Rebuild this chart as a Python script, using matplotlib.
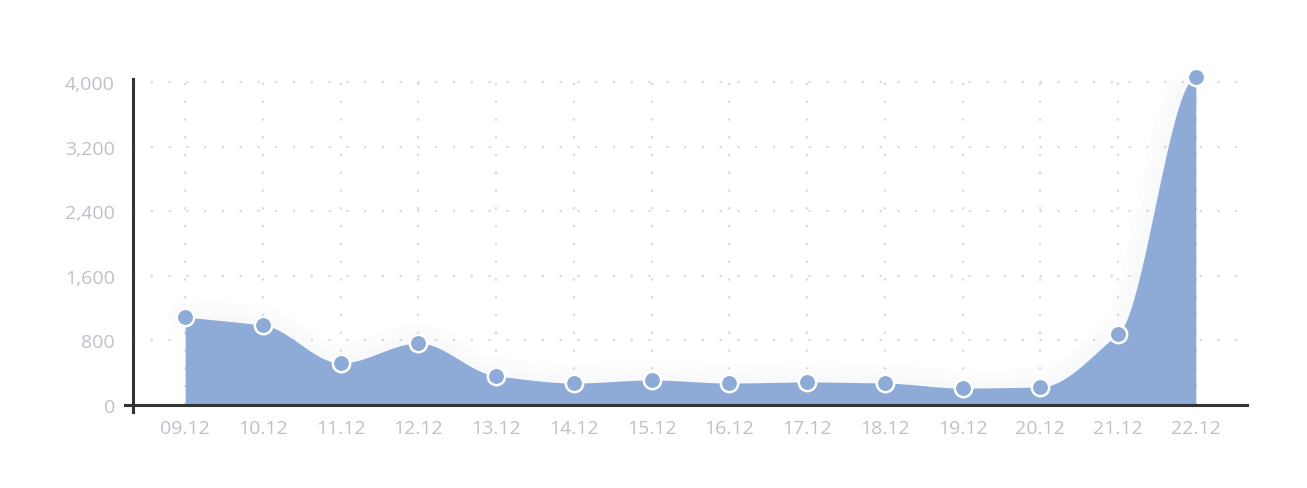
import matplotlib
matplotlib.use("Agg")
import matplotlib.pyplot as plt
from matplotlib.lines import Line2D
import numpy as np

dates = ["09.12", "10.12", "11.12", "12.12", "13.12", "14.12", "15.12",
         "16.12", "17.12", "18.12", "19.12", "20.12", "21.12", "22.12"]
values = [1090, 990, 520, 768, 360, 272, 310, 272, 285, 272, 210, 223, 880, 4060]
yticks = [0, 800, 1600, 2400, 3200, 4000]

FILL = "#8eaad6"
LABEL = "#c0c0cb"
GRID = "#d9d9df"
AXIS = "#333333"


def monotone_curve(x, y, n=40):
    # monotone cubic (Fritsch-Carlson), flat at the last point
    x = np.asarray(x, float)
    y = np.asarray(y, float)
    h = np.diff(x)
    d = np.diff(y) / h
    m = np.zeros_like(y)
    m[0], m[-1] = d[0], 0
    for i in range(1, len(y) - 1):
        if d[i - 1] * d[i] <= 0:
            m[i] = 0
        else:
            w1 = 2 * h[i] + h[i - 1]
            w2 = h[i] + 2 * h[i - 1]
            m[i] = 0.7 * (w1 + w2) / (w1 / d[i - 1] + w2 / d[i])
    xs, ys = [], []
    for i in range(len(x) - 1):
        t = np.linspace(0, 1, n, endpoint=False)
        h00 = 2 * t**3 - 3 * t**2 + 1
        h10 = t**3 - 2 * t**2 + t
        h01 = -2 * t**3 + 3 * t**2
        h11 = t**3 - t**2
        xs.append(x[i] + t * h[i])
        ys.append(h00 * y[i] + h10 * h[i] * m[i] + h01 * y[i + 1] + h11 * h[i] * m[i + 1])
    xs.append([x[-1]])
    ys.append([y[-1]])
    return np.concatenate(xs), np.concatenate(ys)


x = np.arange(len(dates))
xs, ys = monotone_curve(x, values)

fig = plt.figure(figsize=(13.07, 4.89), dpi=100)
ax = fig.add_axes([0.1018, 0.1697, 0.8524, 0.6667])

# very soft glow around the area
for lw, a in [(28, 0.012), (18, 0.018), (10, 0.025)]:
    ax.plot(xs, ys, color="#9aa6c4", linewidth=lw, alpha=a,
            solid_capstyle="round", zorder=1)
ax.fill_between(xs, 0, ys, color=FILL, linewidth=0, zorder=2)
ax.plot(x, values, "o", markersize=12.5, markerfacecolor=FILL,
        markeredgecolor="white", markeredgewidth=1.8, zorder=4, clip_on=False)

ax.set_xlim(-0.67, 13.66)
ax.set_ylim(0, 4037)

ax.set_xticks(x)
ax.set_xticklabels(dates)
ax.set_yticks(yticks)
ax.set_yticklabels([f"{v:,}" for v in yticks])

for lab in ax.get_xticklabels() + ax.get_yticklabels():
    lab.set_fontfamily("Open Sans")
    lab.set_fontsize(14)
    lab.set_color(LABEL)

ax.tick_params(axis="x", length=0, pad=10)
ax.tick_params(axis="y", length=0, pad=13)

ax.grid(True, color=GRID, linewidth=1.6, linestyle=(0, (1, 7)), zorder=0)
ax.set_axisbelow(True)

for s in ax.spines.values():
    s.set_visible(False)

# axis lines, slightly overshooting the corner like the original
ax.add_line(Line2D([0, 0], [-0.02, 1.0], transform=ax.transAxes, color=AXIS,
                   linewidth=2.2, clip_on=False, zorder=5))
ax.add_line(Line2D([-0.007, 1.0], [0, 0], transform=ax.transAxes, color=AXIS,
                   linewidth=2.2, clip_on=False, zorder=5))

fig.savefig("out.png", dpi=100, facecolor="white")
